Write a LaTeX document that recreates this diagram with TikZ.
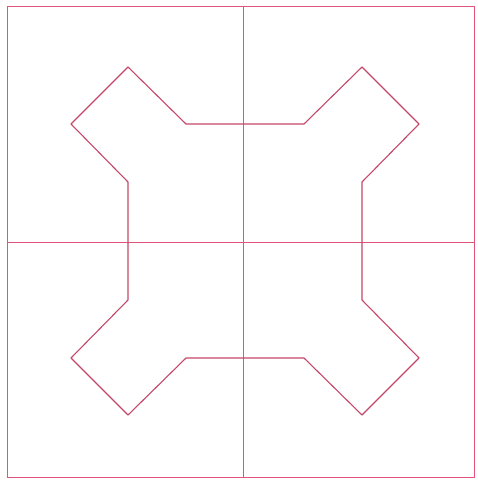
\documentclass[tikz,border=0pt]{standalone}
\definecolor{ink}{RGB}{226,84,122}
\definecolor{shape}{RGB}{196,70,104}
\begin{document}
\begin{tikzpicture}[x=1pt,y=-1pt,
        frame/.style={draw=ink,line width=1pt},
        outline/.style={draw=shape,line width=1.1pt,line join=round}]
        \useasboundingbox (0,0) rectangle (477,481);
        \draw[frame] (7,7) rectangle (474,477);
        \coordinate (top) at (243,7);
        \coordinate (bottom) at (243,477);
        \coordinate (left) at (7,242);
        \coordinate (right) at (474,242);
        \draw[frame] (top) -- (bottom);
        \draw[frame] (left) -- (right);

        \begin{scope}[shift={(245,241)}]
        \draw[outline] (-117,-174) -- (-59,-117) -- (59,-117) -- (117,-174) -- (174,-117) -- (117,-59)
            -- (117,59) -- (174,117) -- (117,174) -- (59,117) -- (-59,117) -- (-117,174)
            -- (-174,117) -- (-117,59) -- (-117,-59) -- (-174,-117) -- cycle;
        \end{scope}
    \end{tikzpicture}
\end{document}
